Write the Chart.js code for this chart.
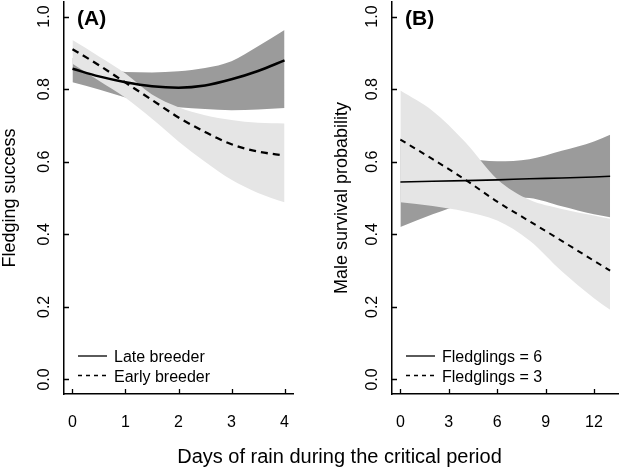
<!DOCTYPE html>
<html>
<head>
<meta charset="utf-8">
<script src="https://cdn.jsdelivr.net/npm/chart.js@4"></script>
<style>
  body { margin: 0; background: #fff; }
  #wrap { position: relative; width: 622px; height: 467px; background: #fff; }
  #wrap canvas { position: absolute; top: 0; }
  #xtitle { position: absolute; left: 0; width: 679px; top: 446px; text-align: center;
    font: 20px/20px 'Liberation Sans', Arial, sans-serif; color: #000; white-space: nowrap; }
</style>
</head>
<body>
<div id="wrap">
  <canvas id="chartA" width="311" height="467" style="left:0"></canvas>
  <canvas id="chartB" width="311" height="467" style="left:311px"></canvas>
  <div id="xtitle"></div>
</div>
<script>
// panel A: fledging success vs days of rain
const daysA = [0, 0.5, 1, 1.5, 2, 2.5, 3, 3.5, 4];
const lateFit   = [0.856, 0.835, 0.819, 0.808, 0.804, 0.810, 0.827, 0.850, 0.879];
const lateLow   = [0.819, 0.799, 0.777, 0.760, 0.750, 0.745, 0.742, 0.744, 0.748];
const lateHigh  = [0.886, 0.862, 0.847, 0.846, 0.849, 0.858, 0.877, 0.918, 0.963];
const earlyFit  = [0.910, 0.866, 0.818, 0.770, 0.722, 0.682, 0.648, 0.628, 0.617];
const earlyLow  = [0.870, 0.823, 0.776, 0.718, 0.656, 0.600, 0.550, 0.514, 0.488];
const earlyHigh = [0.935, 0.890, 0.843, 0.785, 0.750, 0.728, 0.715, 0.707, 0.705];

// panel B: male survival vs days of rain
const daysB = [0, 2, 4, 6, 8, 10, 12, 13];
const fled6Fit  = [0.544, 0.546, 0.548, 0.550, 0.553, 0.555, 0.558, 0.560];
const fled6Low  = [0.420, 0.455, 0.485, 0.503, 0.500, 0.477, 0.455, 0.447];
const fled6High = [0.665, 0.632, 0.610, 0.601, 0.607, 0.630, 0.656, 0.674];
const fled3Fit  = [0.661, 0.607, 0.551, 0.490, 0.436, 0.382, 0.327, 0.300];
const fled3Low  = [0.488, 0.478, 0.463, 0.438, 0.383, 0.298, 0.224, 0.192];
const fled3High = [0.796, 0.740, 0.655, 0.552, 0.495, 0.470, 0.452, 0.443];

const xTicksA = [0, 1, 2, 3, 4];
const xTicksB = [0, 3, 6, 9, 12];
const yTicks = [0, 0.2, 0.4, 0.6, 0.8, 1.0];
const yTickLabels = ['0.0', '0.2', '0.4', '0.6', '0.8', '1.0'];
const legendA = ['Late breeder', 'Early breeder'];
const legendB = ['Fledglings = 6', 'Fledglings = 3'];
const yTitleA = 'Fledging success';
const yTitleB = 'Male survival probability';
const xTitle = 'Days of rain during the critical period';

const FONT = "'Liberation Sans', Arial, Helvetica, sans-serif";
const DARK = '#9b9b9b', LIGHT = '#e5e5e5';

document.getElementById('xtitle').textContent = xTitle;

function pts(xs, ys){ return xs.map((x, i) => ({ x, y: ys[i] })); }

function band(data, color, fill){
  return { data, fill, backgroundColor: color, borderColor: 'transparent', borderWidth: 0, pointRadius: 0, cubicInterpolationMode: 'monotone' };
}
function curve(label, data, width, dash){
  return { label, data, fill: false, borderColor: '#000', borderWidth: width, borderDash: dash, pointRadius: 0, cubicInterpolationMode: 'monotone' };
}

// R-like decorations: inward ticks, upright y labels, panel tag, line legend
const rPlot = {
  id: 'rPlot',
  afterDraw(chart, args, o){
    const { ctx, chartArea: a, scales: { x, y } } = chart;
    ctx.save();
    ctx.strokeStyle = '#000';
    ctx.lineWidth = 1.3;
    ctx.beginPath();
    o.xTicks.forEach(v => { const px = Math.round(x.getPixelForValue(v)) + 0.5; ctx.moveTo(px, a.bottom); ctx.lineTo(px, a.bottom - 5); });
    yTicks.forEach(v => { const py = Math.round(y.getPixelForValue(v)) + 0.5; ctx.moveTo(a.left, py); ctx.lineTo(a.left + 5, py); });
    ctx.stroke();

    ctx.fillStyle = '#000';
    ctx.font = `16px ${FONT}`;
    ctx.textAlign = 'center';
    ctx.textBaseline = 'alphabetic';
    yTicks.forEach((v, i) => {
      ctx.save();
      ctx.translate(a.left - 15, y.getPixelForValue(v));
      ctx.rotate(-Math.PI / 2);
      ctx.fillText(yTickLabels[i], 0, 0);
      ctx.restore();
    });

    ctx.textAlign = 'left';
    ctx.font = `bold 21px ${FONT}`;
    ctx.fillText(o.tag, a.left + 13, 25);

    ctx.font = `16px ${FONT}`;
    chart.data.datasets.filter(d => d.label).forEach((d, i) => {
      const ly = a.bottom - 38 + i * 19.5;
      ctx.beginPath();
      ctx.lineWidth = 1.3;
      ctx.setLineDash(d.borderDash ? [4, 4] : []);
      ctx.moveTo(a.left + 14, ly);
      ctx.lineTo(a.left + 43, ly);
      ctx.stroke();
      ctx.setLineDash([]);
      ctx.fillText(d.label, a.left + 50, ly + 6);
    });
    ctx.restore();
  }
};

function makePanel(id, cfg){
  return new Chart(document.getElementById(id), {
    type: 'line',
    data: { datasets: cfg.datasets },
    plugins: [rPlot],
    options: {
      responsive: false,
      animation: false,
      events: [],
      layout: { padding: { top: 2, right: cfg.padRight, left: 0, bottom: 0 } },
      plugins: { legend: { display: false }, tooltip: { enabled: false }, rPlot: { tag: cfg.tag, xTicks: cfg.xTicks } },
      scales: {
        x: {
          type: 'linear', min: cfg.xMin, max: cfg.xMax,
          afterBuildTicks: s => { s.ticks = cfg.xTicks.map(v => ({ value: v })); },
          afterFit: s => { s.height = 73; },
          grid: { display: false, drawTicks: false },
          border: { display: true, color: '#000', width: 1.5 },
          ticks: { padding: 19, color: '#000', font: { family: FONT, size: 16 }, maxRotation: 0, callback: (v) => String(v) }
        },
        y: {
          type: 'linear', min: -0.04, max: 1.04,
          afterBuildTicks: s => { s.ticks = yTicks.map(v => ({ value: v })); },
          afterFit: s => { s.width = cfg.yWidth; },
          grid: { display: false, drawTicks: false },
          border: { display: true, color: '#000', width: 1.5 },
          ticks: { display: false },
          title: { display: true, text: cfg.yTitle, color: '#000', font: { family: FONT, size: 18, lineHeight: 1 }, padding: { top: cfg.titlePad, bottom: 0 } }
        }
      }
    }
  });
}

makePanel('chartA', {
  tag: '(A)', yTitle: yTitleA, xTicks: xTicksA, xMin: -0.16, xMax: 4.16, padRight: 18, yWidth: 64, titlePad: 1,
  datasets: [
    curve(legendA[0], pts(daysA, lateFit), 2.5, undefined),
    curve(legendA[1], pts(daysA, earlyFit), 2.3, [7, 5]),
    band(pts(daysA, earlyHigh), LIGHT, '+1'),
    band(pts(daysA, earlyLow), LIGHT, false),
    band(pts(daysA, lateHigh), DARK, '+1'),
    band(pts(daysA, lateLow), DARK, false)
  ]
});

makePanel('chartB', {
  tag: '(B)', yTitle: yTitleB, xTicks: xTicksB, xMin: -0.52, xMax: 13.52, padRight: 1, yWidth: 81, titlePad: 21.7,
  datasets: [
    curve(legendB[0], pts(daysB, fled6Fit), 1.6, undefined),
    curve(legendB[1], pts(daysB, fled3Fit), 2, [6, 5]),
    band(pts(daysB, fled3High), LIGHT, '+1'),
    band(pts(daysB, fled3Low), LIGHT, false),
    band(pts(daysB, fled6High), DARK, '+1'),
    band(pts(daysB, fled6Low), DARK, false)
  ]
});
</script>
</body>
</html>
